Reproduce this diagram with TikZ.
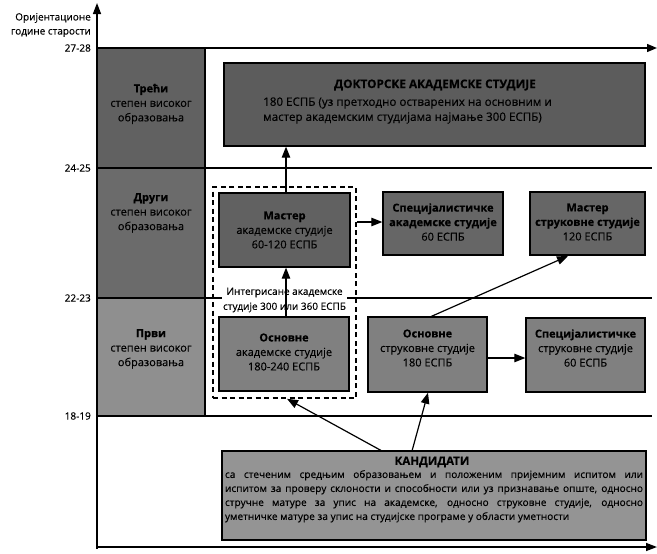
\documentclass[tikz,border=0pt]{standalone}
\usepackage{fontspec}
\setmainfont{Open Sans}[FakeBold=0.35]
\usetikzlibrary{arrows.meta}
\begin{document}
\begin{tikzpicture}[x=1pt,y=-1pt,
  axis/.style={line width=1.4pt},
  arr/.style={line width=1.2pt,-{Triangle[length=11pt,width=8.5pt]}},
  gbox/.style={draw=black,line width=1.4pt,inner sep=0pt},
  btext/.style={align=center,font=\fontsize{11}{14.5}\selectfont,inner sep=0pt},
  lbl/.style={anchor=east,font=\fontsize{10}{12}\selectfont,inner sep=0pt}]
\useasboundingbox (0,0) rectangle (657,554);
% left column fills
\fill[black!62] (97,48) rectangle (205,168);
\fill[black!58] (97,168) rectangle (205,298);
\fill[black!44] (97,298) rectangle (205,416);
% axes and level lines
\draw[axis,-{Triangle[length=11pt,width=8pt]}] (97,549) -- (97,3);
\draw[axis,-{Triangle[length=11pt,width=8pt]}] (97,547) -- (657,547);
\draw[axis,-{Triangle[length=10pt,width=8pt]}] (97,48) -- (657,48);
\draw[axis] (97,168) -- (652,168);
\draw[axis] (97,298) -- (652,298);
\draw[axis] (97,416) -- (652,416);
\draw[axis] (205,48) -- (205,416);
% left labels
\node[lbl] (l1) at (91,18) {Оријентационе};
\node[lbl] (l2) at (91,33) {године старости};
\node[lbl] (a1) at (91,48) {27-28};
\node[lbl] (a2) at (91,168) {24-25};
\node[lbl] (a3) at (91,298) {22-23};
\node[lbl] (a4) at (91,416) {18-19};
\node[btext] (treci) at (151,104) {{\bfseries Трећи}\\степен високог\\образовања};
\node[btext] (drugi) at (151,213) {{\bfseries Други}\\степен високог\\образовања};
\node[btext] (prvi) at (151,349) {{\bfseries Први}\\степен високог\\образовања};
% doctoral
\node[gbox,fill=black!64,minimum width=421pt,minimum height=83pt] (doc) at (434.5,104.5) {};
\node[btext,font=\fontsize{11.8}{14}\selectfont\bfseries] (doct) at (435,85) {ДОКТОРСКЕ АКАДЕМСКЕ СТУДИЈЕ};
\node[btext,anchor=west,font=\fontsize{11.6}{14}\selectfont] (docl1) at (263,103) {180 ЕСПБ (уз претходно остварених на основним и};
\node[btext,anchor=west,font=\fontsize{11.6}{14}\selectfont] (docl2) at (263,118) {мастер академским студијама најмање 300 ЕСПБ)};
% dashed integrated box
\node[draw=black,line width=1.6pt,dash pattern=on 5pt off 3.5pt,minimum width=143pt,minimum height=211pt,inner sep=0pt] (integ) at (284.5,292.5) {};
\node[btext,fill=white,font=\fontsize{10}{15}\selectfont,inner sep=1pt] (integt) at (284.5,300) {Интегрисане академске\\студије 300 или 360 ЕСПБ};
% boxes
\node[gbox,fill=black!62,minimum width=131pt,minimum height=74pt] (master) at (284.5,230) {};
\node[btext] (mastert) at (284.5,230) {{\bfseries Мастер}\\академске студије\\60-120 ЕСПБ};
\node[gbox,fill=black!60,minimum width=120pt,minimum height=63pt] (specak) at (443,223.5) {};
\node[btext] (specakt) at (443,222) {{\bfseries Специјалистичке}\\{\bfseries академске студије}\\60 ЕСПБ};
\node[gbox,fill=black!60,minimum width=115pt,minimum height=63pt] (mastst) at (587.5,223.5) {};
\node[btext] (maststt) at (587.5,222) {{\bfseries Мастер}\\{\bfseries струковне студије}\\120 ЕСПБ};
\node[gbox,fill=black!50,minimum width=130pt,minimum height=74pt] (osnak) at (284,354) {};
\node[btext] (osnakt) at (284,352) {{\bfseries Основне}\\академске студије\\180-240 ЕСПБ};
\node[gbox,fill=black!50,minimum width=119pt,minimum height=75pt] (osnst) at (427.5,354.5) {};
\node[btext] (osnstt) at (427.5,348) {{\bfseries Основне}\\струковне студије\\180 ЕСПБ};
\node[gbox,fill=black!50,minimum width=119pt,minimum height=74pt] (specst) at (585.5,355) {};
\node[btext] (specstt) at (585.5,348) {{\bfseries Специјалистичке}\\струковне студије\\60 ЕСПБ};
% candidates
\node[gbox,fill=black!42,minimum width=424pt,minimum height=89pt] (kand) at (434,495.5) {};
\node[btext,font=\fontsize{11.5}{14}\selectfont\bfseries] (kandt) at (432,462) {КАНДИДАТИ};
\node[inner sep=0pt,anchor=north,font=\fontsize{10.1}{14}\selectfont] (kandb) at (434,470) {%
\begin{minipage}{418pt}
\makebox[418pt][s]{са стеченим средњим образовањем и положеним пријемним испитом или}\\
\makebox[418pt][s]{испитом за проверу склоности и способности или уз признавање опште, односно}\\
\makebox[418pt][s]{стручне матуре за упис на академске, односно струковне студије, односно}\\
уметничке матуре за упис на студијске програме у области уметности
\end{minipage}};
% connectors
\coordinate (k1) at (382,451);
\coordinate (k2) at (412,451);
\coordinate (ostop) at (430,317);
\coordinate (mstbot) at (568,256);
\draw[arr] (master.north -| 286,0) -- (doc.south -| 286,0);
\draw[arr] (osnak.north -| 286,0) -- (master.south -| 286,0);
\draw[arr] (integ.east |- 0,222) -- (specak.west |- 0,222);
\draw[arr] (ostop) -- (mstbot);
\draw[arr] (osnst.east |- 0,358) -- (specst.west |- 0,358);
\draw[arr] (k1) -- (integ.south -| 287,0);
\draw[arr] (k2) -- (osnst.south -| 428,0);
\end{tikzpicture}
\end{document}
